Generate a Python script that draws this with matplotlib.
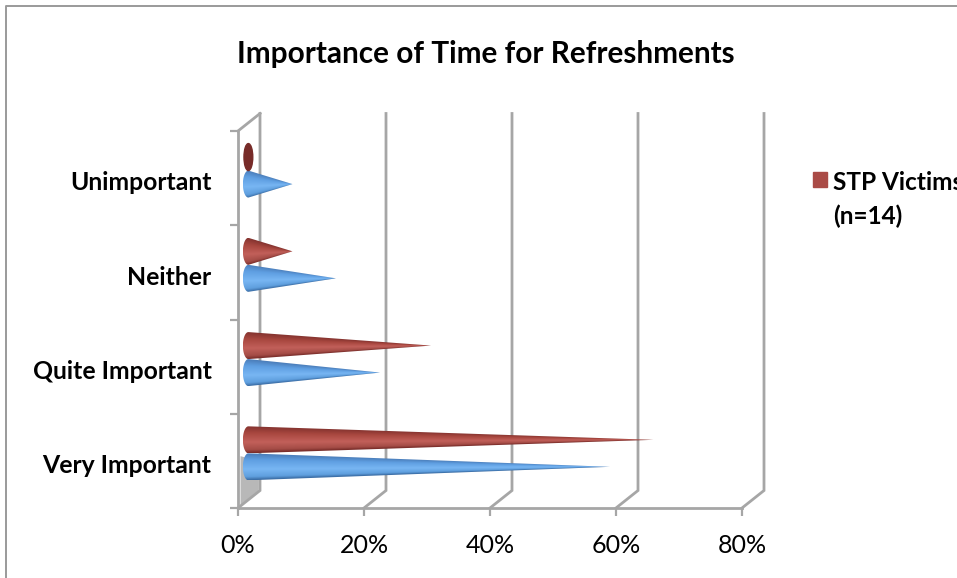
import matplotlib
matplotlib.use('Agg')
import matplotlib.pyplot as plt
import numpy as np
from matplotlib.colors import LinearSegmentedColormap
from matplotlib.lines import Line2D
from matplotlib.patches import Ellipse, Patch, PathPatch, Polygon
from matplotlib.path import Path

plt.rcParams['font.family'] = ['Lato', 'DejaVu Sans']

# values
categories = ['Very Important', 'Quite Important', 'Neither', 'Unimportant']
blue_values = [57.4, 20.9, 13.9, 7.0]
red_values = [64.3, 29.0, 7.0, 0.0]
x_ticks = [0, 20, 40, 60, 80]
x_labels = ['0%', '20%', '40%', '60%', '80%']
title = 'Importance of Time for Refreshments'
legend_label = 'STP Victims\n(n=14)'

GREY = '#a6a6a6'
W, H = 957, 578

blue_map = LinearSegmentedColormap.from_list('blue', [
    (0.0, '#4a7cb8'), (0.25, '#5f9fe2'), (0.6, '#78b6f3'), (0.88, '#5f9fde'), (1.0, '#3a6ca4')])
red_map = LinearSegmentedColormap.from_list('red', [
    (0.0, '#84332f'), (0.25, '#a8473f'), (0.6, '#c2605a'), (0.88, '#a44c46'), (1.0, '#782c29')])

fig = plt.figure(figsize=(W / 100, H / 100), dpi=100)
ax = fig.add_axes([238 / W, (H - 508) / H, 504 / W, 377 / H])

# sizes of the fake 3D, in data units
px_x = 80 / 504
px_y = 4 / 377
depth_x = 22 * px_x
depth_y = 17.5 * px_y
half_h = 13.5 * px_y
half_w = 5.5 * px_x


def draw_cone(value, yc, cmap):
    x0 = depth_x / 2 - 0.1
    if value <= 0:
        ax.add_patch(Ellipse((x0, yc), half_w * 1.6, half_h * 2, color='#772b28', zorder=5))
        return
    # outline: tip, top of base ellipse, left half of base, back to tip
    angles = np.linspace(np.pi / 2, 3 * np.pi / 2, 30)
    xs = x0 + half_w * np.cos(angles)
    ys = yc + half_h * np.sin(angles)
    verts = [(x0 + value, yc)] + list(zip(xs, ys)) + [(x0 + value, yc)]
    codes = [Path.MOVETO] + [Path.LINETO] * (len(verts) - 2) + [Path.CLOSEPOLY]
    clip = PathPatch(Path(verts, codes), transform=ax.transData, fc='none', ec='none')
    ax.add_patch(clip)

    left, right = x0 - half_w, x0 + value
    gx, gy = np.meshgrid(np.linspace(left, right, 800), np.linspace(yc - half_h, yc + half_h, 120))
    taper = np.clip(1 - (gx - x0) / value, 0.02, 1)
    t = np.clip((gy - yc) / (half_h * taper), -1, 1)
    im = ax.imshow((1 - t) / 2, extent=(left, right, yc - half_h, yc + half_h), origin='lower',
                   cmap=cmap, vmin=0, vmax=1, aspect='auto', zorder=5, interpolation='bilinear')
    im.set_clip_path(clip)


# back wall and floor lines
for x in x_ticks:
    ax.plot([x, x + depth_x, x + depth_x], [0, depth_y, 4 + depth_y], color=GREY, lw=2,
            clip_on=False, solid_joinstyle='miter', zorder=2)
ax.plot([0, depth_x], [4, 4 + depth_y], color=GREY, lw=2, clip_on=False, zorder=2)

# shadow on the side wall next to the lowest cone
ax.add_patch(Polygon([(0.4, 0.03), (depth_x - 0.2, depth_y), (depth_x - 0.2, 0.5), (0.4, 0.55)],
                     fc='#b8b8b8', ec='none', zorder=1, clip_on=False))

for i in range(len(categories)):
    centre = i + 0.5 + depth_y / 2 - 1.2 * px_y
    draw_cone(blue_values[i], centre - half_h, blue_map)
    draw_cone(red_values[i], centre + half_h, red_map)

ax.set_xlim(0, 80)
ax.set_ylim(0, 4)
ax.set_facecolor('none')
for side in ['top', 'right']:
    ax.spines[side].set_visible(False)
for side in ['left', 'bottom']:
    ax.spines[side].set_color(GREY)
    ax.spines[side].set_linewidth(2)

ax.set_xticks(x_ticks)
ax.set_xticklabels(x_labels, fontsize=18)
ax.set_yticks(range(5))
ax.set_yticklabels([])
# labels sit a little under the middle of their band
ax.set_yticks(np.arange(4) + 0.47, labels=categories, minor=True, fontsize=17.8, fontweight='bold')
ax.tick_params(axis='x', color=GREY, width=1.6, length=6, pad=13)
ax.tick_params(axis='y', which='major', color=GREY, width=1.6, length=6)
ax.tick_params(axis='y', which='minor', length=0, pad=19)

fig.text(486 / W, 1 - 54 / H, title, fontsize=21.4, fontweight='bold', ha='center', va='center')

leg = fig.legend(handles=[Patch(color='#aa4b46', label=legend_label)], loc='upper left',
                 bbox_to_anchor=(791 / W, 1 - 149 / H), frameon=False, prop={'size': 17.6, 'weight': 'bold'},
                 handlelength=0.58, handleheight=0.58, handletextpad=0.24, labelspacing=0, borderpad=0.4)
leg.get_texts()[0].set_linespacing(1.55)
leg.legend_handles[0].set_y(16)  # square goes next to the first line

# chart frame, cut by the picture on the right and at the bottom
fig.add_artist(Line2D([5.5 / W, 5.5 / W, 1], [0, 1 - 5.5 / H, 1 - 5.5 / H], color='#9a9a9a', lw=1.4))

fig.savefig('out.png', dpi=100)
